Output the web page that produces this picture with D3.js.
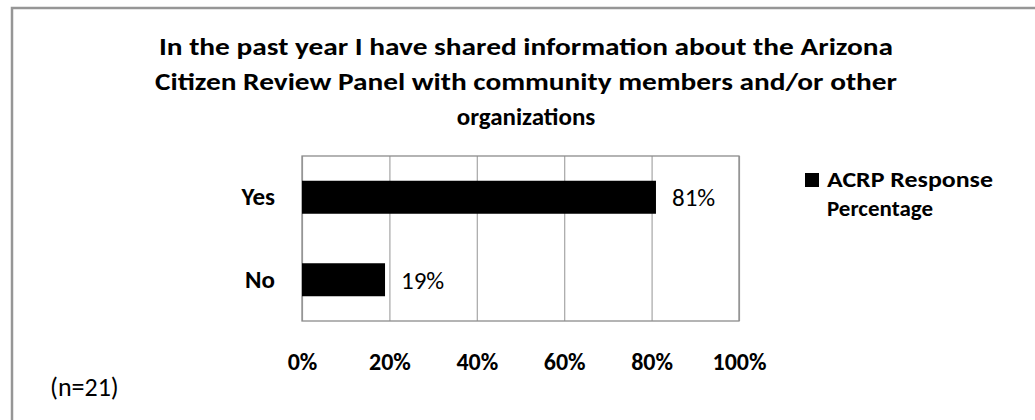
<!DOCTYPE html>
<html>
<head>
<meta charset="utf-8">
<script src="https://cdn.jsdelivr.net/npm/d3@7/dist/d3.min.js"></script>
<style>
  html, body { margin: 0; padding: 0; background: #fff; }
  svg { display: block; }
  text { font-family: Carlito, Calibri, Lato, "Open Sans", sans-serif; fill: #000; }
</style>
</head>
<body>
<svg id="chart" width="1035" height="420"></svg>
<script>
// ---- data ----
const titleLines = [
  "In the past year I have shared information about the Arizona",
  "Citizen Review Panel with community members and/or other",
  "organizations"
];
const categories = ["Yes", "No"];
const values = [0.81, 0.19];
const seriesName = ["ACRP", "Response", "Percentage"];
const xTicks = [0, 0.2, 0.4, 0.6, 0.8, 1.0];
const tickLabels = ["0%", "20%", "40%", "60%", "80%", "100%"];
const valueLabels = ["81%", "19%"];
const noteText = "(n=21)";

// ---- layout ----
const W = 1035, H = 420;
const plot = { left: 302, right: 739, top: 156, bottom: 321 };
const svg = d3.select("#chart");

// outer frame (extends past the right and bottom edges)
svg.append("rect")
  .attr("x", 12).attr("y", 8)
  .attr("width", W + 20).attr("height", H + 20)
  .attr("fill", "#fff").attr("stroke", "#969696").attr("stroke-width", 2.5);

// title
const titleBaselines = [55, 90, 125];
const titleWidths = [734, 742, null];
svg.append("g").selectAll("text").data(titleLines).join("text")
  .attr("x", 526)
  .attr("y", (d, i) => titleBaselines[i])
  .attr("text-anchor", "middle")
  .attr("font-size", 25)
  .attr("font-weight", "bold")
  .each(function (d, i) {
    if (titleWidths[i]) d3.select(this).attr("textLength", titleWidths[i]).attr("lengthAdjust", "spacingAndGlyphs");
  })
  .text(d => d);

// scales
const x = d3.scaleLinear().domain([0, 1]).range([plot.left, plot.right]);
const y = d3.scaleBand().domain(categories).range([plot.top, plot.bottom])
  .paddingInner(0.6).paddingOuter(0.3);

// gridlines
const grid = svg.append("g")
  .attr("transform", `translate(0,${plot.bottom})`)
  .call(d3.axisBottom(x).tickValues(xTicks).tickSize(-(plot.bottom - plot.top)).tickFormat(""));
grid.select(".domain").remove();
grid.selectAll(".tick line").attr("stroke", "#a6a6a6").attr("stroke-width", 1.2);

// plot border
svg.append("rect")
  .attr("x", plot.left).attr("y", plot.top)
  .attr("width", plot.right - plot.left).attr("height", plot.bottom - plot.top)
  .attr("fill", "none").attr("stroke", "#8c8c8c").attr("stroke-width", 1.3);

// bars
svg.append("g").selectAll("rect").data(categories).join("rect")
  .attr("x", x(0))
  .attr("y", d => y(d))
  .attr("width", (d, i) => x(values[i]) - x(0))
  .attr("height", y.bandwidth())
  .attr("fill", "#000");

// value labels
svg.append("g").selectAll("text").data(categories).join("text")
  .attr("x", (d, i) => x(values[i]) + 16)
  .attr("y", d => y(d) + y.bandwidth() / 2)
  .attr("dy", "0.35em")
  .attr("font-size", 25)
  .text((d, i) => valueLabels[i]);

// category axis
const yAxis = svg.append("g")
  .attr("transform", `translate(${plot.left},0)`)
  .call(d3.axisLeft(y).tickSize(0).tickPadding(27));
yAxis.select(".domain").remove();
yAxis.selectAll("text")
  .attr("font-size", 25).attr("font-weight", "bold")
  .style("font-family", "Carlito, Calibri, Lato, sans-serif").attr("fill", "#000");

// value axis labels
const xAxis = svg.append("g")
  .attr("transform", `translate(0,${plot.bottom})`)
  .call(d3.axisBottom(x).tickValues(xTicks).tickSize(0).tickPadding(32)
    .tickFormat((d, i) => tickLabels[i]));
xAxis.select(".domain").remove();
xAxis.selectAll("text")
  .attr("font-size", 24).attr("font-weight", "bold")
  .style("font-family", "Carlito, Calibri, Lato, sans-serif").attr("fill", "#000");

// legend
const legend = svg.append("g");
legend.append("rect")
  .attr("x", 805).attr("y", 173).attr("width", 14).attr("height", 14)
  .attr("fill", "#000");
legend.append("text")
  .attr("x", 827).attr("y", 187)
  .attr("font-size", 23).attr("font-weight", "bold")
  .attr("textLength", 166).attr("lengthAdjust", "spacingAndGlyphs")
  .text(seriesName[0] + " " + seriesName[1]);
legend.append("text")
  .attr("x", 827).attr("y", 216)
  .attr("font-size", 23).attr("font-weight", "bold")
  .text(seriesName[2]);

// note
svg.append("text")
  .attr("x", 50).attr("y", 396)
  .attr("font-size", 26).attr("fill", "#333")
  .text(noteText);
</script>
</body>
</html>
